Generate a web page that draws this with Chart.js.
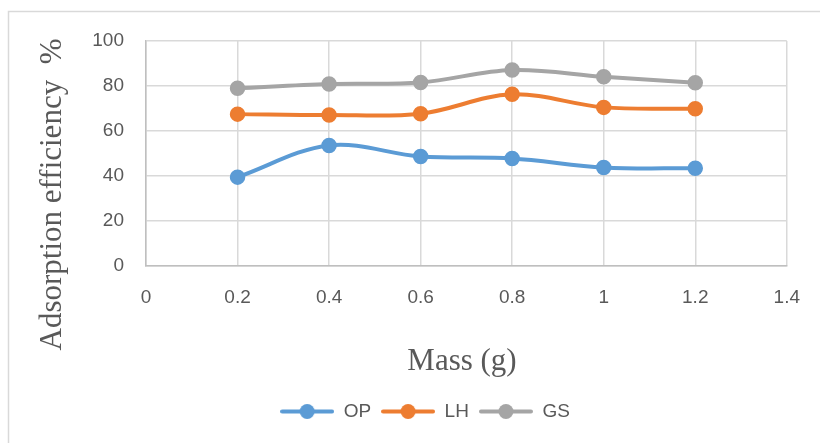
<!DOCTYPE html>
<html>
<head>
<meta charset="utf-8">
<script src="https://cdn.jsdelivr.net/npm/chart.js@4.4.1/dist/chart.umd.min.js"></script>
<style>
    html, body { margin: 0; padding: 0; background: #fff; }
    #wrap { width: 820px; height: 443px; }
</style>
</head>
<body>
<div id="wrap"><canvas id="adsChart" width="820" height="443"></canvas></div>
<script>
// Chart data
const massValues = [0.2, 0.4, 0.6, 0.8, 1.0, 1.2];
const opValues = [39.5, 53.6, 48.7, 47.8, 43.8, 43.4];
const lhValues = [67.5, 67.1, 67.7, 76.3, 70.5, 69.9];
const gsValues = [79.0, 80.9, 81.6, 87.1, 84.1, 81.4];
const seriesNames = ['OP', 'LH', 'GS'];
const seriesColors = ['#5B9BD5', '#ED7D31', '#A5A5A5'];
const xTickLabels = ['0', '0.2', '0.4', '0.6', '0.8', '1', '1.2', '1.4'];
const yTickLabels = ['0', '20', '40', '60', '80', '100'];
const xTitle = 'Mass (g)';
const yTitle = 'Adsorption efficiency  %';

const gridColor = '#D9D9D9';
const textColor = '#595959';

// Legend icon: line with a dot in the middle (Excel style)
function makeLegendIcon(color) {
    const c = document.createElement('canvas');
    c.width = 54;
    c.height = 17;
    const g = c.getContext('2d');
    g.strokeStyle = color;
    g.lineWidth = 4;
    g.lineCap = 'round';
    g.beginPath();
    g.moveTo(2, 8.5);
    g.lineTo(52, 8.5);
    g.stroke();
    g.fillStyle = color;
    g.beginPath();
    g.arc(27, 8.5, 7.5, 0, Math.PI * 2);
    g.fill();
    return c;
}
const legendIcons = seriesColors.map(makeLegendIcon);

function toPoints(values) {
    return values.map((v, i) => ({ x: massValues[i], y: v }));
}

function makeDataset(name, values, color) {
    return {
        label: name,
        data: toPoints(values),
        borderColor: color,
        backgroundColor: color,
        borderWidth: 4,
        pointRadius: 7,
        pointBorderWidth: 1.5,
        pointBackgroundColor: color,
        pointBorderColor: color,
        tension: 0.35,
        fill: false
    };
}

// Frame + axis titles
const framePlugin = {
    id: 'frame',
    beforeDraw(chart) {
        const ctx = chart.ctx;
        ctx.save();
        ctx.strokeStyle = gridColor;
        ctx.lineWidth = 1.5;
        ctx.beginPath();
        ctx.moveTo(8.5, 443);
        ctx.lineTo(8.5, 11.5);
        ctx.lineTo(820, 11.5);
        ctx.stroke();
        ctx.restore();
    },
    afterDraw(chart) {
        const ctx = chart.ctx;
        ctx.save();
        ctx.fillStyle = textColor;
        ctx.font = '31px "Liberation Serif", "Times New Roman", serif';
        ctx.textAlign = 'center';
        ctx.textBaseline = 'alphabetic';
        ctx.fillText(xTitle, 462, 370);
        ctx.translate(60.5, 194.5);
        ctx.rotate(-Math.PI / 2);
        ctx.fillText(yTitle, 0, 0);
        ctx.restore();
    }
};

const ctx = document.getElementById('adsChart');
new Chart(ctx, {
    type: 'line',
    data: {
        datasets: [
            makeDataset(seriesNames[0], opValues, seriesColors[0]),
            makeDataset(seriesNames[1], lhValues, seriesColors[1]),
            makeDataset(seriesNames[2], gsValues, seriesColors[2])
        ]
    },
    options: {
        responsive: false,
        animation: false,
        layout: {
            padding: { left: 62, top: 41, right: 32, bottom: 12 }
        },
        plugins: {
            legend: {
                position: 'bottom',
                labels: {
                    usePointStyle: true,
                    pointStyleWidth: 54,
                    padding: 10,
                    color: textColor,
                    font: { family: '"Liberation Sans", Arial, sans-serif', size: 19 },
                    generateLabels(chart) {
                        const items = Chart.defaults.plugins.legend.labels.generateLabels(chart);
                        items.forEach((it, i) => { it.pointStyle = legendIcons[i]; });
                        return items;
                    }
                }
            },
            tooltip: { enabled: false }
        },
        scales: {
            x: {
                type: 'linear',
                min: 0,
                max: 1.4,
                afterFit(scale) { scale.height = 126; },
                afterBuildTicks(scale) {
                    scale.ticks = xTickLabels.map(t => ({ value: parseFloat(t) }));
                },
                ticks: {
                    padding: 20,
                    color: textColor,
                    font: { family: '"Liberation Sans", Arial, sans-serif', size: 19 },
                    maxRotation: 0,
                    callback: (v, i) => xTickLabels[i]
                },
                grid: { color: gridColor, lineWidth: 1.5, drawTicks: false },
                border: { color: '#BFBFBF', width: 1.5 }
            },
            y: {
                min: 0,
                max: 100,
                afterFit(scale) { scale.width = 84; },
                afterBuildTicks(scale) {
                    scale.ticks = yTickLabels.map(t => ({ value: parseFloat(t) }));
                },
                ticks: {
                    padding: 22,
                    color: textColor,
                    font: { family: '"Liberation Sans", Arial, sans-serif', size: 19 },
                    callback: (v, i) => yTickLabels[i]
                },
                grid: { color: gridColor, lineWidth: 1.5, drawTicks: false },
                border: { color: '#BFBFBF', width: 1.5 }
            }
        }
    },
    plugins: [framePlugin]
});
</script>
</body>
</html>
